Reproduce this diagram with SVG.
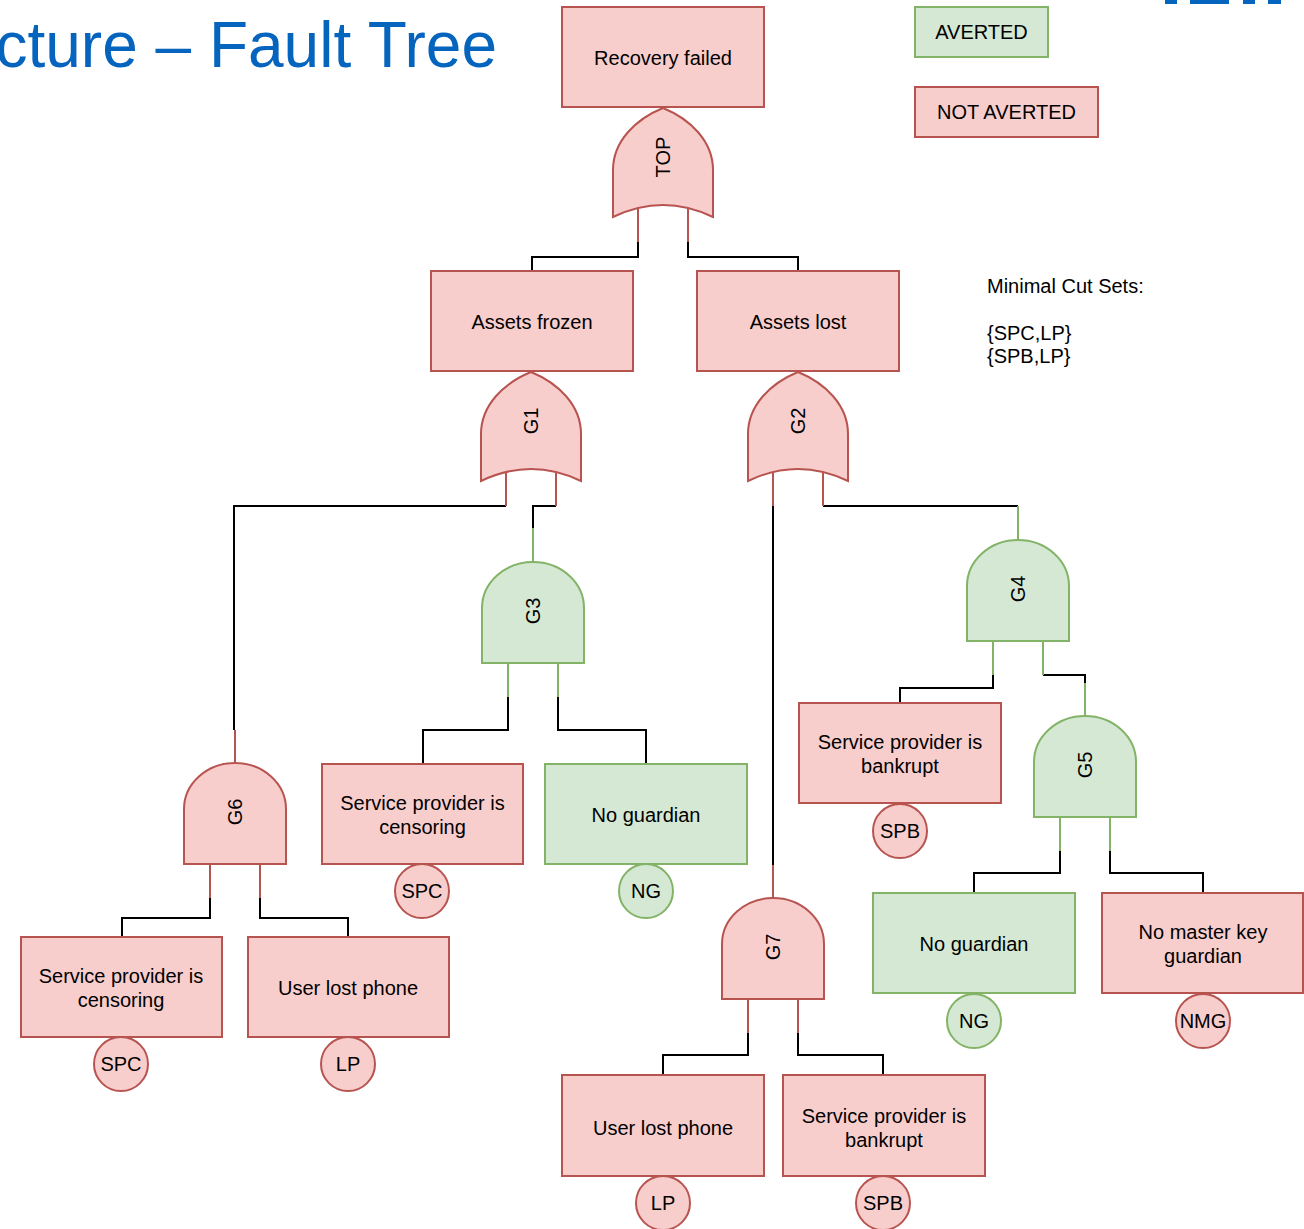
<svg xmlns="http://www.w3.org/2000/svg" width="1304" height="1229" viewBox="0 0 1304 1229">
  <style>
    text { font-family: "Liberation Sans", Arial, sans-serif; font-size: 20px; fill: #000; text-anchor: middle; }
    .red { fill: #f8cecc; stroke: #b85450; stroke-width: 2; }
    .green { fill: #d5e8d4; stroke: #82b366; stroke-width: 2; }
    .pin-red { stroke: #b85450; stroke-width: 2; fill: none; }
    .pin-green { stroke: #82b366; stroke-width: 2; fill: none; }
    .edge { stroke: #000; stroke-width: 2; fill: none; }
    .title { font-size: 64px; fill: #0564be; text-anchor: end; }
    .note { text-anchor: start; }
  </style>
  <defs>
    <!-- OR gate, origin at the top point, 100 wide -->
    <path id="orBody" d="M0,0 C27,11 50,33 50,62 L50,109 Q0,85 -50,109 L-50,62 C-50,33 -27,11 0,0 Z"/>
    <!-- AND gate, origin at the top centre, 102 wide -->
    <path id="andBody" d="M-51,46 A51,46 0 0 1 51,46 L51,101 L-51,101 Z"/>
  </defs>

  <rect width="1304" height="1229" fill="#fff"/>

  <!-- heading and logo strip -->
  <text class="title" x="497" y="67">cture – Fault Tree</text>
  <g id="logo" fill="#0564be">
    <rect x="1165" y="0" width="12" height="4"/>
    <rect x="1190" y="0" width="39" height="4"/>
    <rect x="1243" y="0" width="12" height="4"/>
    <rect x="1268" y="0" width="13" height="4"/>
  </g>

  <!-- legend -->
  <g id="legend-averted">
    <rect class="green" x="915" y="7" width="133" height="50"/>
    <text x="981.5" y="39">AVERTED</text>
  </g>
  <g id="legend-not-averted">
    <rect class="red" x="915" y="87" width="183" height="50"/>
    <text x="1006.5" y="119">NOT AVERTED</text>
  </g>

  <g id="cut-sets">
    <text class="note" x="987" y="293">Minimal Cut Sets:</text>
    <text class="note" x="987" y="340">{SPC,LP}</text>
    <text class="note" x="987" y="363">{SPB,LP}</text>
  </g>

  <!-- connectors -->
  <g id="connectors" class="edge">
    <polyline points="638,242 638,257 532,257 532,271"/>
    <polyline points="688,242 688,257 798,257 798,271"/>
    <polyline points="506,506 234,506 234,730"/>
    <polyline points="556,506 533,506 533,528"/>
    <polyline points="773,506 773,865"/>
    <polyline points="823,506 1018,506"/>
    <polyline points="508,697 508,730 423,730 423,764"/>
    <polyline points="558,697 558,730 646,730 646,764"/>
    <polyline points="993,675 993,688 900,688 900,703"/>
    <polyline points="1043,675 1085,675 1085,683"/>
    <polyline points="1060,851 1060,873 974,873 974,893"/>
    <polyline points="1110,851 1110,873 1203,873 1203,893"/>
    <polyline points="210,898 210,918 122,918 122,937"/>
    <polyline points="260,898 260,918 348,918 348,937"/>
    <polyline points="748,1033 748,1055 663,1055 663,1075"/>
    <polyline points="798,1033 798,1055 883,1055 883,1075"/>
  </g>

  <!-- events -->
  <g id="recovery-failed">
    <rect class="red" x="562" y="7" width="202" height="100"/>
    <text x="663" y="65">Recovery failed</text>
  </g>
  <g id="assets-frozen">
    <rect class="red" x="431" y="271" width="202" height="100"/>
    <text x="532" y="329">Assets frozen</text>
  </g>
  <g id="assets-lost">
    <rect class="red" x="697" y="271" width="202" height="100"/>
    <text x="798" y="329">Assets lost</text>
  </g>

  <!-- OR gates -->
  <g id="gate-top">
    <path class="pin-red" d="M638,200 V242 M688,200 V242"/>
    <use href="#orBody" class="red" x="663" y="108"/>
    <text transform="translate(663,157) rotate(-90)" y="7">TOP</text>
  </g>
  <g id="gate-g1">
    <path class="pin-red" d="M506,465 V506 M556,465 V506"/>
    <use href="#orBody" class="red" x="531" y="372"/>
    <text transform="translate(531,421) rotate(-90)" y="7">G1</text>
  </g>
  <g id="gate-g2">
    <path class="pin-red" d="M773,465 V506 M823,465 V506"/>
    <use href="#orBody" class="red" x="798" y="372"/>
    <text transform="translate(798,421) rotate(-90)" y="7">G2</text>
  </g>

  <!-- AND gates -->
  <g id="gate-g3">
    <path class="pin-green" d="M533,528 V562 M508,663 V697 M558,663 V697"/>
    <use href="#andBody" class="green" x="533" y="562"/>
    <text transform="translate(533,611) rotate(-90)" y="7">G3</text>
  </g>
  <g id="gate-g4">
    <path class="pin-green" d="M1018,506 V540 M993,641 V675 M1043,641 V675"/>
    <use href="#andBody" class="green" x="1018" y="540"/>
    <text transform="translate(1018,589) rotate(-90)" y="7">G4</text>
  </g>
  <g id="gate-g5">
    <path class="pin-green" d="M1085,683 V716 M1060,817 V851 M1110,817 V851"/>
    <use href="#andBody" class="green" x="1085" y="716"/>
    <text transform="translate(1085,765) rotate(-90)" y="7">G5</text>
  </g>
  <g id="gate-g6">
    <path class="pin-red" d="M235,730 V763 M210,864 V898 M260,864 V898"/>
    <use href="#andBody" class="red" x="235" y="763"/>
    <text transform="translate(235,812) rotate(-90)" y="7">G6</text>
  </g>
  <g id="gate-g7">
    <path class="pin-red" d="M773,865 V898 M748,999 V1033 M798,999 V1033"/>
    <use href="#andBody" class="red" x="773" y="898"/>
    <text transform="translate(773,947) rotate(-90)" y="7">G7</text>
  </g>

  <!-- basic events under G3 -->
  <g id="g3-censoring">
    <rect class="red" x="322" y="764" width="201" height="100"/>
    <text x="422.5" y="810">Service provider is</text>
    <text x="422.5" y="834">censoring</text>
    <circle class="red" cx="422" cy="891" r="27"/>
    <text x="422" y="898">SPC</text>
  </g>
  <g id="g3-no-guardian">
    <rect class="green" x="545" y="764" width="202" height="100"/>
    <text x="646" y="822">No guardian</text>
    <circle class="green" cx="646" cy="891" r="27"/>
    <text x="646" y="898">NG</text>
  </g>

  <!-- basic events under G4 / G5 -->
  <g id="g4-bankrupt">
    <rect class="red" x="799" y="703" width="202" height="100"/>
    <text x="900" y="749">Service provider is</text>
    <text x="900" y="773">bankrupt</text>
    <circle class="red" cx="900" cy="831" r="27"/>
    <text x="900" y="838">SPB</text>
  </g>
  <g id="g5-no-guardian">
    <rect class="green" x="873" y="893" width="202" height="100"/>
    <text x="974" y="951">No guardian</text>
    <circle class="green" cx="974" cy="1021" r="27"/>
    <text x="974" y="1028">NG</text>
  </g>
  <g id="g5-no-master-key">
    <rect class="red" x="1102" y="893" width="201" height="100"/>
    <text x="1203" y="939">No master key</text>
    <text x="1203" y="963">guardian</text>
    <circle class="red" cx="1203" cy="1021" r="27"/>
    <text x="1203" y="1028">NMG</text>
  </g>

  <!-- basic events under G6 -->
  <g id="g6-censoring">
    <rect class="red" x="21" y="937" width="201" height="100"/>
    <text x="121" y="983">Service provider is</text>
    <text x="121" y="1007">censoring</text>
    <circle class="red" cx="121" cy="1064" r="27"/>
    <text x="121" y="1071">SPC</text>
  </g>
  <g id="g6-lost-phone">
    <rect class="red" x="248" y="937" width="201" height="100"/>
    <text x="348" y="995">User lost phone</text>
    <circle class="red" cx="348" cy="1064" r="27"/>
    <text x="348" y="1071">LP</text>
  </g>

  <!-- basic events under G7 -->
  <g id="g7-lost-phone">
    <rect class="red" x="562" y="1075" width="202" height="101"/>
    <text x="663" y="1135">User lost phone</text>
    <circle class="red" cx="663" cy="1203" r="27"/>
    <text x="663" y="1210">LP</text>
  </g>
  <g id="g7-bankrupt">
    <rect class="red" x="783" y="1075" width="202" height="101"/>
    <text x="884" y="1123">Service provider is</text>
    <text x="884" y="1147">bankrupt</text>
    <circle class="red" cx="883" cy="1203" r="27"/>
    <text x="883" y="1210">SPB</text>
  </g>
</svg>
